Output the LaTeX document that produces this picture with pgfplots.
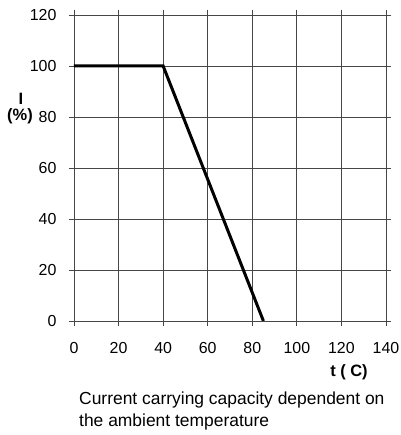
\documentclass[border=0pt]{standalone}
\usepackage{fontspec}
\setmainfont{Liberation Sans}
\usepackage{pgfplots}
\pgfplotsset{compat=1.18}
\definecolor{gridgray}{RGB}{70,70,70}
\begin{document}
\begin{tikzpicture}
\path[use as bounding box] (-74bp,-114bp) rectangle (327bp,321bp);
\begin{axis}[
    at={(0,0)}, anchor=south west,
    scale only axis,
    width=312bp, height=306bp,
    xmin=0, xmax=140, ymin=0, ymax=120,
    xtick={0,20,...,140},
    ytick={0,20,...,120},
    grid=major,
    grid style={gridgray, line width=0.8bp},
    axis line style={gridgray, line width=0.8bp},
    tick style={gridgray, line width=0.8bp},
    tick align=outside,
    major tick length=5bp,
    /pgf/number format/assume math mode=true,
    tick label style={font=\fontsize{16}{18}\selectfont},
    yticklabel style={xshift=-9bp},
    xticklabel style={yshift=-13bp},
]
\addplot[black, line width=3bp] coordinates {
    (0, 100)
    (40, 100)
    (85, 0)
};
\end{axis}
\node[font=\fontsize{16.5}{18}\selectfont\bfseries, inner sep=0pt] at (-53bp,222bp) {I};
\node[font=\fontsize{16.5}{18}\selectfont\bfseries, inner sep=0pt] at (-54bp,205bp) {(\%)};
\node[font=\fontsize{16.5}{18}\selectfont\bfseries] at (275bp,-51bp) {t ( C)};
\node[font=\fontsize{17.5}{22}\selectfont, anchor=base west, inner sep=0pt] at (5bp,-83bp) {Current carrying capacity dependent on};
\node[font=\fontsize{17.5}{22}\selectfont, anchor=base west, inner sep=0pt] at (5bp,-105bp) {the ambient temperature};
\end{tikzpicture}
\end{document}
